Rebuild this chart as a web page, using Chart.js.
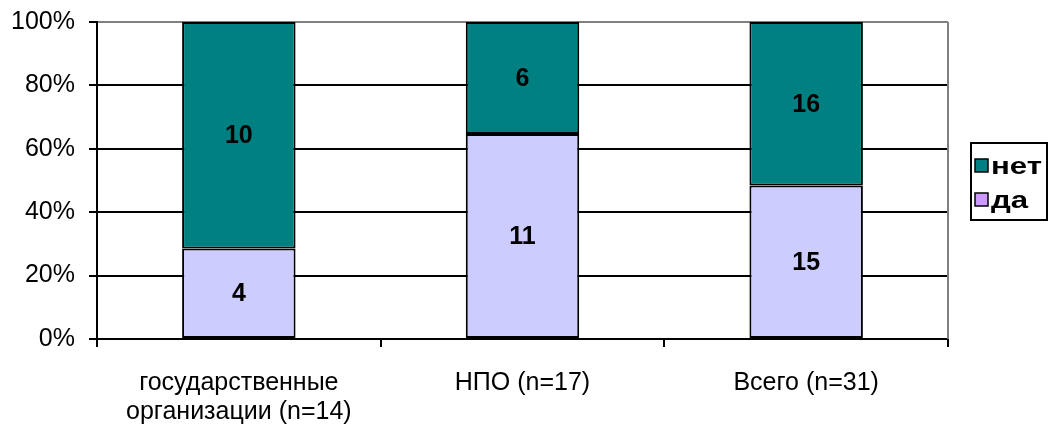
<!DOCTYPE html>
<html lang="ru">
<head>
<meta charset="utf-8">
<title>Доля ответов «да» и «нет»</title>
<script src="https://cdn.jsdelivr.net/npm/chart.js@4/dist/chart.umd.min.js"></script>
<style>
  html, body { margin: 0; padding: 0; background: #fff; }
  #wrap { width: 1049px; height: 424px; position: relative; }
</style>
</head>
<body>
<div id="wrap"><canvas id="chart"></canvas></div>
<script>
// Groups of respondents (two-line label for the first one)
const categories = [
  ['государственные', 'организации (n=14)'],
  'НПО (n=17)',
  'Всего (n=31)'
];
// Answer counts per group
const countsYes = [4, 11, 15];
const countsNo  = [10, 6, 16];
const seriesNames = ['да', 'нет'];
const yTicks = [0, 20, 40, 60, 80, 100];

const COLOR_YES = '#CCCCFF';
const COLOR_NO = '#008080';
const COLOR_YES_KEY = '#CC99FF';
const FONT = '"Liberation Sans", Arial, sans-serif';

// Convert counts into shares of each group's total (100% stacked)
const totals = countsYes.map((v, i) => v + countsNo[i]);
const shareYes = countsYes.map((v, i) => v / totals[i] * 100);
const shareNo = countsNo.map((v, i) => v / totals[i] * 100);

// Writes the raw count in the middle of each bar segment
const countLabels = {
  id: 'countLabels',
  afterDatasetsDraw(chart) {
    const ctx = chart.ctx;
    ctx.save();
    ctx.font = 'bold 25px ' + FONT;
    ctx.fillStyle = '#000';
    ctx.textAlign = 'center';
    ctx.textBaseline = 'middle';
    chart.data.datasets.forEach((ds, di) => {
      const meta = chart.getDatasetMeta(di);
      meta.data.forEach((el, i) => {
        const cy = (el.y + el.base) / 2;
        ctx.fillText(String(ds.counts[i]), el.x, cy + 1);
      });
    });
    ctx.restore();
  }
};

// Plot-area right edge and the boxed legend on the right
const frameAndLegend = {
  id: 'frameAndLegend',
  afterDraw(chart) {
    const ctx = chart.ctx;
    const a = chart.chartArea;
    ctx.save();
    ctx.strokeStyle = '#808080';
    ctx.lineWidth = 2;
    ctx.beginPath();
    ctx.moveTo(a.right, a.top);
    ctx.lineTo(a.right, a.bottom);
    ctx.stroke();

    const bx = a.right + 23, by = 143, bw = 76, bh = 77;
    ctx.strokeStyle = '#000';
    ctx.lineWidth = 2;
    ctx.strokeRect(bx, by, bw, bh);

    const items = [
      { text: seriesNames[1], color: COLOR_NO },
      { text: seriesNames[0], color: COLOR_YES_KEY }
    ];
    ctx.font = 'bold 24px ' + FONT;
    ctx.textAlign = 'left';
    ctx.textBaseline = 'middle';
    items.forEach((it, k) => {
      const cy = by + 23 + k * 34;
      ctx.fillStyle = it.color;
      ctx.fillRect(bx + 4, cy - 7, 13, 13);
      ctx.lineWidth = 1.5;
      ctx.strokeStyle = '#000';
      ctx.strokeRect(bx + 4, cy - 7, 13, 13);
      ctx.fillStyle = '#000';
      // legend captions are set slightly wide
      ctx.save();
      ctx.translate(bx + 20, cy + 1);
      ctx.scale(1.3, 1);
      ctx.fillText(it.text, 0, 0);
      ctx.restore();
    });
    ctx.restore();
  }
};

new Chart(document.getElementById('chart'), {
  type: 'bar',
  data: {
    labels: categories,
    datasets: [
      {
        label: seriesNames[0],
        data: shareYes,
        counts: countsYes,
        backgroundColor: COLOR_YES,
        borderColor: '#000',
        borderWidth: 2,
        borderSkipped: false,
        categoryPercentage: 1,
        barPercentage: 0.4
      },
      {
        label: seriesNames[1],
        data: shareNo,
        counts: countsNo,
        backgroundColor: COLOR_NO,
        borderColor: '#000',
        borderWidth: 2,
        borderSkipped: false,
        categoryPercentage: 1,
        barPercentage: 0.4
      }
    ]
  },
  options: {
    responsive: true,
    maintainAspectRatio: false,
    animation: false,
    layout: { padding: { top: 22, right: 101, left: 0, bottom: 0 } },
    plugins: {
      legend: { display: false },
      tooltip: { enabled: false }
    },
    scales: {
      x: {
        stacked: true,
        offset: true,
        grid: {
          drawOnChartArea: false,
          drawTicks: true,
          tickLength: 8,
          tickColor: '#000',
          lineWidth: 2,
          offset: true
        },
        border: { color: '#000', width: 2 },
        ticks: {
          color: '#000',
          font: { family: FONT, size: 25, lineHeight: 1.17 },
          padding: 21,
          maxRotation: 0,
          autoSkip: false
        },
        afterFit(scale) { scale.height = 85; }
      },
      y: {
        stacked: true,
        min: 0,
        max: 100,
        afterBuildTicks(scale) { scale.ticks = yTicks.map(v => ({ value: v })); },
        ticks: {
          color: '#000',
          font: { family: FONT, size: 25, lineHeight: 0.6 },
          padding: 14,
          callback: v => v + '%'
        },
        grid: {
          color: ctx => (ctx.tick && ctx.tick.value === 100 ? '#808080' : '#000'),
          tickColor: '#000',
          lineWidth: 2,
          tickLength: 8
        },
        border: { color: '#000', width: 2 },
        afterFit(scale) { scale.width = 97; }
      }
    }
  },
  plugins: [countLabels, frameAndLegend]
});
</script>
</body>
</html>
